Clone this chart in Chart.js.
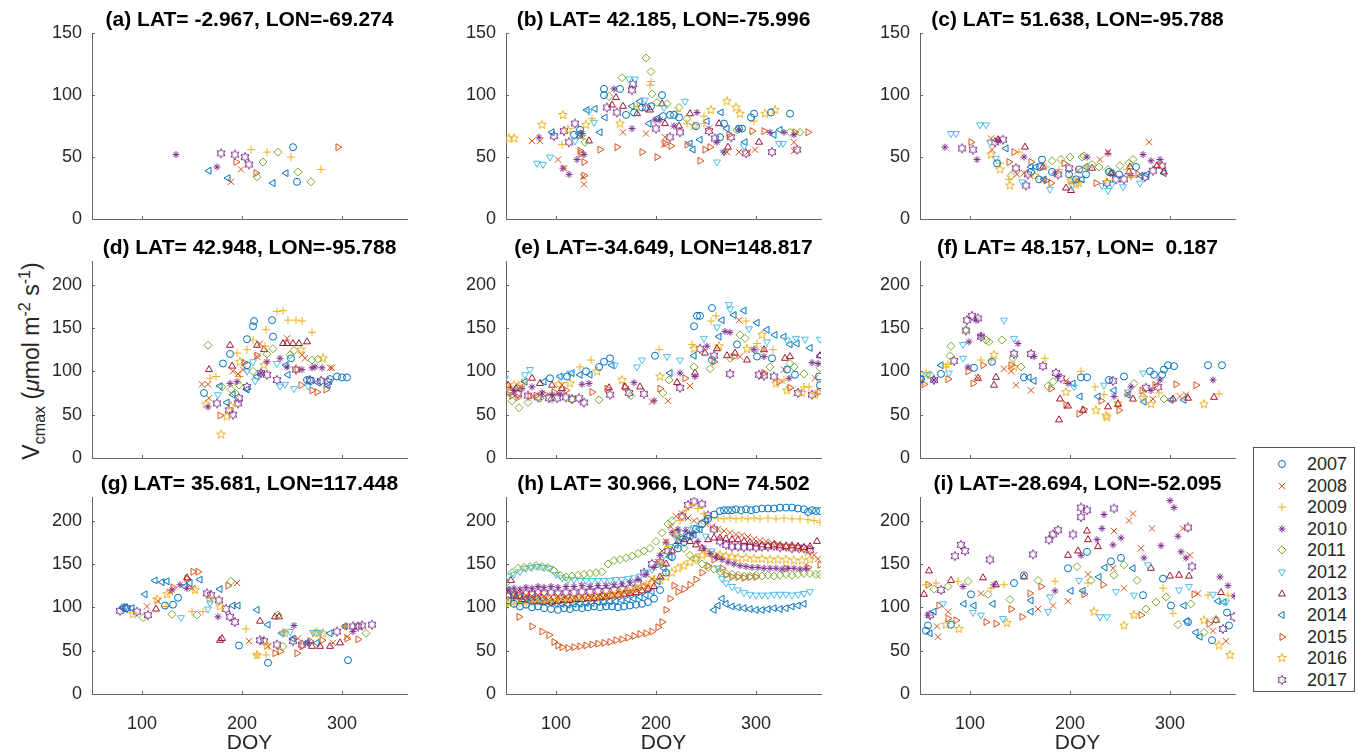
<!DOCTYPE html>
<html>
<head>
<meta charset="utf-8">
<script src="https://cdn.jsdelivr.net/npm/chart.js@4/dist/chart.umd.min.js"></script>
<style>
  body { margin: 0; background: #fff; width: 1358px; height: 756px; overflow: hidden; position: relative;
         font-family: "Liberation Sans", Arial, Helvetica, sans-serif; }
  canvas.panel { position: absolute; }
  #ylab { position: absolute; left: 32px; top: 361px; transform: translate(-50%, -50%) rotate(-90deg);
          font-size: 23px; white-space: nowrap; color: #262626; }
  #ylab sub, #ylab sup { font-size: 70%; }
  #legend { position: absolute; left: 1253px; top: 447px; width: 102px; height: 245px;
            border: 1px solid #555; background: #fff; box-sizing: border-box; }
  .lg-item { position: absolute; font-size: 18px; color: #262626; line-height: 22px; }
</style>
</head>
<body>
<div id="ylab">V<sub>cmax</sub> (<i>μ</i>mol m<sup>-2</sup> s<sup>-1</sup>)</div>
<div id="legend"></div>
<script>
const years = ["2007", "2008", "2009", "2010", "2011", "2012", "2013", "2014", "2015", "2016", "2017"];
const colors = ["#0072BD", "#D95319", "#EDB120", "#7E2F8E", "#77AC30", "#4DBEEE", "#A2142F", "#0072BD", "#D95319", "#EDB120", "#7E2F8E"];
const xTicks = [100, 200, 300];
const yTicksTop = [0, 50, 100, 150];
const yTicksLow = [0, 50, 100, 150, 200];

const titles = [
  "(a) LAT= -2.967, LON=-69.274", "(b) LAT= 42.185, LON=-75.996", "(c) LAT= 51.638, LON=-95.788",
  "(d) LAT= 42.948, LON=-95.788", "(e) LAT=-34.649, LON=148.817", "(f) LAT= 48.157, LON=  0.187",
  "(g) LAT= 35.681, LON=117.448", "(h) LAT= 30.966, LON= 74.502", "(i) LAT=-28.694, LON=-52.095"
];

// each panel: one list of [DOY, Vcmax] per year, 2007..2017
const dataA = [
  [[251,58],[255,30]],
  [[189,30],[199,40]],
  [[209,56],[225,54],[249,50],[279,40]],
  [[134,52],[175,42]],
  [[215,34],[221,46],[236,54],[256,38],[269,30]],
  [],
  [],
  [[167,39],[186,33],[231,29],[244,37]],
  [[194,46],[214,37],[296,58]],
  [],
  [[179,53],[193,52],[203,50],[207,44]]
];
const dataB = [
  [[118,68],[124,72],[148,105],[148,100],[164,105],[170,84],[178,86],[186,90],[195,91],[206,100],[207,83],[214,84],[218,84],[223,82],[240,75],[264,66],[268,77],[283,73],[286,73],[295,82],[298,85],[315,86],[334,85]],
  [[76,63],[84,63],[102,48],[108,41],[127,34],[128,28],[167,70],[190,69],[208,60],[209,66],[253,73],[271,54],[283,54],[292,54],[299,56],[338,55],[338,62]],
  [[106,60],[136,81],[181,91],[194,108],[195,111],[221,87],[231,77],[248,77],[248,83],[298,79]],
  [[83,66],[107,41],[113,36],[121,48],[126,69],[128,52],[158,105],[176,73],[199,80],[204,80],[218,75],[241,86],[261,62],[268,54],[283,72],[314,70],[328,70],[338,68]],
  [[126,68],[129,62],[153,99],[166,114],[190,130],[195,119],[196,101],[201,94],[211,93],[223,90],[231,81],[281,72],[334,70],[344,70]],
  [[81,45],[87,44],[94,50],[119,63],[133,87],[138,78],[173,113],[179,113],[189,96],[208,90],[229,95],[261,46],[268,54],[288,59],[323,61],[327,61]],
  [[124,67],[133,63],[156,92],[160,98],[167,91],[181,85],[194,88],[206,93],[209,77],[223,75],[234,85],[263,77],[272,58],[303,62]],
  [[96,70],[123,69],[131,88],[139,89],[144,70],[149,82],[176,91],[184,95],[193,77],[201,81],[234,61],[237,56],[244,64],[251,79],[265,86],[271,73],[289,62],[318,68],[324,72]],
  [[124,55],[125,53],[128,46],[128,35],[144,56],[161,58],[186,54],[201,50],[209,61],[215,59],[231,60],[244,47],[249,56],[254,58],[273,68],[296,71],[308,71],[339,70],[352,70]],
  [[53,65],[58,65],[86,76],[107,84],[112,72],[130,76],[164,77],[238,75],[255,88],[271,95],[280,90],[284,85],[309,85],[319,88]],
  [[98,67],[108,71],[113,62],[119,77],[151,90],[161,86],[176,104],[177,109],[190,90],[200,73],[214,66],[224,70],[253,71],[259,65],[275,66],[290,53],[316,54],[341,56]]
];
const dataC = [
  [[127,45],[161,38],[169,32],[170,42],[172,48],[182,38],[199,36],[206,32],[209,40],[216,36],[239,38],[249,36],[266,42]],
  [[121,65],[122,56],[147,36],[154,37],[173,32],[207,32],[208,39],[230,48],[238,54],[279,62],[289,43]],
  [[130,45],[139,32],[149,54],[176,42],[189,40],[201,30],[216,42],[236,31],[257,40],[261,34]],
  [[75,58],[107,48],[128,63],[154,50],[185,37],[217,50],[238,53],[261,35],[273,52],[281,47],[290,48]],
  [[141,35],[182,47],[191,48],[200,50],[212,50],[214,51],[222,44],[229,42],[238,40],[250,43],[259,45],[263,48]],
  [[81,69],[86,69],[110,76],[116,76],[120,62],[126,49],[152,30],[180,24],[202,27],[232,27],[238,23],[242,28],[253,26],[270,29]],
  [[128,64],[155,58],[173,42],[196,25],[201,23],[222,41],[241,37],[259,38],[260,42],[287,43],[294,38]],
  [[136,57],[161,42],[166,42],[174,32],[212,32],[216,42],[242,37],[271,35],[277,36],[294,37]],
  [[101,62],[139,46],[144,54],[161,46],[176,31],[181,29],[194,45],[226,29],[242,37],[268,36]],
  [[121,52],[130,40],[140,27],[165,35],[201,31],[206,28],[209,29]],
  [[92,57],[103,56],[125,62],[133,64],[146,41],[156,27],[158,36],[188,36],[199,41],[237,29],[246,32],[254,32],[275,34],[283,39],[292,43]]
];
const dataD = [
  [[162,75],[181,109],[188,120],[205,107],[205,137],[211,152],[212,158],[230,159],[231,140],[249,115],[265,90],[269,89],[288,91],[295,94],[300,93],[305,93]],
  [[160,85],[166,85],[167,69],[191,100],[196,97],[201,102],[215,117],[218,132],[245,138],[260,119],[263,115],[288,104],[290,104]],
  [[168,92],[174,94],[195,121],[198,94],[205,125],[211,136],[223,129],[224,148],[235,169],[241,170],[246,159],[254,159],[260,158],[270,145]],
  [[166,59],[188,86],[195,88],[219,98],[225,111],[238,115],[245,105],[260,102],[270,104],[273,105],[280,104]],
  [[166,130],[180,82],[189,79],[193,75],[197,84],[211,100],[225,120],[231,126],[248,119],[252,124],[270,113],[276,114]],
  [[176,73],[205,100],[211,111],[213,89],[235,109],[238,83],[243,85],[252,80],[266,83]],
  [[167,102],[188,130],[190,106],[215,130],[222,125],[241,132],[245,132],[251,132],[257,132],[265,134]],
  [[178,83],[185,64],[191,73],[205,79],[215,94],[244,107],[246,96],[276,87],[286,84]],
  [[178,49],[202,110],[215,118],[255,102],[259,84],[270,78],[275,76],[284,79]],
  [[164,62],[179,27],[185,48],[189,60],[198,111],[222,107],[259,125],[281,115]],
  [[175,63],[187,55],[191,50],[196,63],[197,69],[205,82],[219,98],[225,96],[235,90],[254,102],[268,90],[279,89],[286,88]]
];
const dataE = [
  [[94,92],[111,94],[130,100],[143,105],[148,111],[154,115],[199,118],[238,152],[241,164],[244,164],[256,173],[256,113],[281,131],[301,117],[316,115],[331,102],[339,96],[363,94],[364,84]],
  [[64,82],[106,84],[196,65],[212,66],[234,83],[283,159],[284,117],[308,125],[328,102],[359,92]],
  [[124,105],[135,113],[203,125],[236,131],[255,158],[260,164],[290,158],[301,132],[317,125],[328,90],[348,82],[353,82]],
  [[58,78],[66,80],[76,82],[86,75],[96,73],[104,74],[126,85],[133,86],[178,87],[198,66],[224,98],[239,94],[251,129],[269,146],[274,145],[298,125],[308,117],[333,92],[356,110],[362,109]],
  [[50,74],[56,66],[63,58],[72,64],[84,69],[96,68],[116,67],[143,67],[175,72],[207,75],[213,90],[238,105],[254,103],[274,115],[284,142],[289,138],[299,125],[314,105],[334,109],[338,105],[348,97],[364,104]],
  [[49,92],[69,96],[74,102],[105,94],[114,98],[159,107],[181,105],[186,113],[211,117],[224,113],[248,138],[261,151],[273,177],[274,172],[293,149],[311,134],[331,136],[340,138],[349,137],[364,137]],
  [[52,84],[60,80],[76,92],[84,86],[96,84],[106,80],[153,81],[169,82],[184,82],[221,87],[239,98],[249,121],[261,126],[271,118],[279,121],[291,113],[308,125],[329,115],[334,117],[364,118]],
  [[69,88],[88,88],[104,94],[116,98],[124,96],[134,96],[156,107],[214,98],[238,118],[263,140],[266,159],[278,165],[288,170],[301,156],[311,148],[319,142],[328,140],[334,131],[341,132],[354,127],[364,118]],
  [[56,72],[62,70],[74,71],[80,72],[88,74],[98,76],[110,78],[136,76],[151,80],[169,82],[204,80],[229,92],[258,111],[278,117],[308,98],[323,88],[334,81],[363,76]],
  [[51,82],[58,84],[66,86],[103,85],[114,86],[141,100],[166,90],[204,94],[238,126],[263,129],[291,126],[306,142],[320,86],[331,78],[346,75],[359,73]],
  [[54,76],[62,74],[72,72],[82,70],[93,69],[101,69],[110,70],[116,68],[123,69],[128,64],[154,73],[173,75],[188,74],[224,81],[244,126],[258,118],[274,97],[303,96],[308,95],[318,94],[342,75],[356,73]]
];
const dataF = [
  [[51,91],[71,97],[104,104],[122,111],[154,93],[211,93],[217,93],[239,90],[254,94],[280,100],[284,96],[292,96],[294,102],[298,107],[304,106],[338,107],[352,107]],
  [[51,88],[108,92],[134,103],[141,100],[146,84],[161,78],[196,89],[258,74],[283,68],[310,71],[316,73]],
  [[76,105],[78,108],[111,113],[121,113],[175,115],[211,100],[225,82],[234,73],[274,71],[289,75],[349,74]],
  [[64,90],[98,105],[99,134],[106,159],[111,141],[148,132],[164,117],[188,94],[198,86],[244,71],[261,82],[281,78],[290,90],[343,90]],
  [[60,96],[80,118],[81,129],[96,148],[116,136],[119,134],[132,136],[143,115],[151,105],[178,83],[183,88],[264,86],[273,70],[294,68]],
  [[58,96],[79,98],[93,115],[93,131],[134,159],[144,138],[204,82],[234,84],[258,76],[273,98]],
  [[108,92],[124,84],[126,93],[189,44],[190,68],[198,60],[213,55],[238,59],[248,62],[263,68],[303,68],[318,69],[344,70]],
  [[51,91],[71,107],[159,93],[164,89],[203,86],[210,71],[228,71],[244,78],[258,73],[274,65],[301,67],[314,67]],
  [[54,85],[78,91],[98,100],[103,86],[113,107],[141,107],[181,80],[196,61],[209,51],[214,56],[231,66],[249,55],[272,78],[285,84],[306,85],[326,84]],
  [[56,97],[124,119],[144,105],[196,76],[226,55],[236,49],[237,47],[248,63],[281,62],[334,62]],
  [[64,90],[84,112],[96,147],[97,159],[102,164],[108,161],[111,140],[144,120],[161,120],[173,106],[186,98],[191,92],[243,89],[276,81],[288,82]]
];
const dataG = [
  [[82,100],[84,99],[123,102],[131,103],[136,111],[197,56],[226,36],[306,39]],
  [[105,101],[116,107],[128,118],[150,122],[195,128],[207,61],[226,55],[256,64],[291,59],[305,66]],
  [[124,101],[150,95],[161,95],[204,75],[215,45],[224,45],[241,72],[303,78]],
  [[130,120],[138,126],[145,122],[176,89],[252,79],[266,59],[303,78],[311,72]],
  [[101,88],[130,92],[155,91],[189,130],[236,91],[241,55],[275,71],[324,70]],
  [[139,88],[166,98],[168,105],[241,70],[248,72],[271,71],[278,71]],
  [[114,98],[145,134],[178,62],[180,64],[218,84],[233,89],[237,89],[270,55],[278,55],[288,55],[298,59]],
  [[81,99],[90,99],[103,115],[113,131],[120,129],[125,130],[143,124],[148,128],[158,132],[178,121],[191,102],[196,102],[215,97],[226,80],[240,70],[251,64],[265,59],[275,59],[288,70],[303,78]],
  [[131,123],[145,133],[151,141],[156,141],[186,125],[233,47],[238,49],[255,47],[260,55],[268,61],[280,62],[305,64],[316,63]],
  [[91,92],[115,109],[125,115],[153,120],[168,109],[178,101],[215,45],[225,56],[243,70],[273,70],[281,70]],
  [[78,96],[85,99],[95,95],[106,91],[165,116],[169,114],[177,108],[184,98],[188,89],[193,83],[218,62],[222,61],[235,57],[251,61],[260,57],[295,72],[311,78],[316,78],[320,79],[330,80]]
];
const dataH = [
  [[52,108],[58,104],[64,101],[70,103],[76,100],[82,101],[88,99],[95,98],[102,97],[108,99],[114,98],[120,100],[126,99],[132,100],[138,101],[144,100],[150,101],[156,101],[162,100],[168,101],[174,102],[180,103],[186,104],[192,106],[198,110],[204,120],[210,140],[216,158],[222,168],[228,175],[234,182],[240,190],[246,196],[252,202],[258,207],[264,211],[268,212],[272,212],[276,212],[280,213],[285,212],[290,213],[295,212],[300,213],[306,214],[312,214],[318,214],[324,215],[330,215],[336,215],[342,214],[348,213],[352,210],[356,212],[360,211],[364,211]],
  [[52,117],[58,116],[64,115],[70,114],[76,113],[82,114],[88,113],[95,112],[102,113],[110,112],[118,111],[126,112],[134,112],[142,113],[150,113],[158,114],[166,115],[174,117],[182,120],[190,124],[196,133],[202,152],[206,165],[210,176],[215,193],[220,205],[226,208],[232,203],[238,200],[244,199],[250,196],[256,193],[262,190],[268,188],[274,186],[280,184],[286,183],[292,181],[298,179],[304,177],[310,176],[316,174],[322,173],[328,171],[334,170],[340,169],[346,166],[352,163],[358,160],[362,156]],
  [[52,103],[58,104],[64,105],[70,104],[76,106],[82,107],[88,106],[95,107],[102,108],[110,108],[118,109],[126,109],[134,110],[142,111],[150,112],[158,114],[166,116],[174,118],[182,122],[190,127],[198,133],[206,150],[212,170],[218,185],[224,200],[230,212],[236,218],[242,214],[248,208],[254,204],[262,203],[268,202],[274,203],[280,202],[286,203],[292,202],[298,203],[304,202],[312,203],[320,202],[328,203],[336,202],[344,202],[352,201],[358,200],[364,198]],
  [[52,120],[58,122],[64,121],[70,123],[76,122],[82,124],[88,123],[95,124],[102,123],[110,124],[118,124],[126,125],[134,124],[142,125],[150,125],[158,126],[166,127],[174,129],[182,132],[190,138],[198,146],[204,160],[210,175],[216,186],[222,190],[230,188],[236,185],[242,176],[248,168],[254,162],[260,158],[266,155],[272,152],[278,150],[284,148],[290,147],[296,146],[302,146],[308,145],[314,145],[320,145],[326,144],[332,145],[338,145],[344,144],[350,145]],
  [[50,128],[56,140],[62,145],[68,146],[74,147],[80,148],[86,147],[92,146],[98,142],[104,137],[110,135],[116,136],[122,137],[128,138],[134,139],[140,140],[146,141],[152,150],[158,154],[164,155],[170,157],[176,159],[182,162],[188,165],[194,168],[200,176],[206,186],[212,196],[216,200],[222,182],[228,168],[234,160],[240,155],[246,150],[252,146],[258,144],[264,141],[270,139],[276,138],[282,137],[288,136],[294,136],[300,137],[306,136],[312,137],[318,136],[324,137],[330,138],[336,137],[342,138],[348,139],[354,139],[360,138],[364,138]],
  [[52,136],[58,138],[64,141],[70,145],[76,146],[82,147],[88,146],[94,145],[100,138],[106,134],[112,132],[118,132],[124,131],[130,131],[136,131],[142,131],[148,131],[154,131],[160,132],[166,132],[172,133],[178,134],[184,136],[190,140],[196,144],[202,150],[208,160],[214,170],[220,180],[226,186],[232,190],[238,192],[244,190],[250,182],[256,165],[262,145],[266,133],[270,128],[276,124],[282,120],[288,117],[294,115],[300,114],[306,114],[312,114],[318,115],[324,115],[330,115],[336,114],[342,115],[348,116],[354,118]],
  [[55,131],[60,112],[66,109],[72,108],[78,107],[84,106],[90,107],[96,106],[102,107],[108,108],[114,108],[120,109],[126,109],[132,110],[138,110],[144,111],[150,112],[156,113],[162,114],[168,115],[174,116],[180,117],[186,119],[192,121],[198,124],[204,135],[210,150],[216,165],[222,176],[228,178],[234,176],[240,172],[246,168],[252,178],[258,180],[264,180],[270,179],[276,178],[282,178],[288,176],[294,175],[300,173],[306,172],[312,171],[318,172],[324,171],[330,170],[336,171],[342,170],[348,169],[354,170],[361,176]],
  [[52,120],[58,115],[64,112],[70,110],[76,109],[82,108],[88,106],[94,105],[100,104],[106,104],[112,103],[118,104],[124,104],[130,105],[136,105],[142,106],[148,106],[154,107],[160,107],[166,108],[172,109],[178,110],[184,112],[190,114],[196,118],[202,130],[208,145],[214,158],[220,172],[226,180],[232,183],[238,184],[244,190],[250,200],[258,97],[262,102],[266,110],[270,104],[276,101],[282,100],[288,99],[294,98],[300,97],[306,97],[312,98],[318,99],[324,98],[330,99],[336,101],[342,102],[348,104]],
  [[63,89],[76,78],[86,72],[93,68],[98,60],[102,56],[106,54],[112,53],[118,54],[124,55],[130,56],[136,57],[142,58],[148,59],[154,60],[160,62],[166,63],[172,65],[178,67],[184,69],[190,70],[196,72],[202,77],[206,83],[210,97],[214,110],[218,125],[222,118],[228,121],[234,126],[240,132],[246,140],[252,148],[258,155],[262,158],[266,145],[270,137],[276,135],[282,135],[288,134],[294,135],[300,135],[330,145],[352,146],[364,149]],
  [[52,106],[60,107],[68,108],[76,107],[84,108],[92,109],[100,108],[108,109],[116,110],[124,110],[132,111],[140,112],[148,113],[156,115],[164,117],[172,119],[180,121],[188,124],[196,128],[204,131],[210,135],[216,140],[222,145],[228,148],[234,152],[240,157],[246,160],[252,162],[258,161],[264,160],[270,159],[276,158],[282,157],[290,157],[298,156],[306,156],[314,155],[322,155],[330,155],[338,154],[346,154],[354,155]],
  [[52,113],[58,115],[64,114],[70,116],[76,115],[82,117],[88,116],[95,117],[102,116],[110,117],[118,117],[126,118],[134,118],[142,119],[150,119],[158,120],[166,121],[174,122],[182,128],[188,140],[196,150],[204,152],[212,165],[220,185],[226,205],[232,218],[238,222],[246,219],[252,206],[258,190],[264,176],[270,172],[276,170],[282,170],[288,169],[294,170],[300,169],[306,170],[312,170],[318,171],[324,169],[330,170],[336,168],[342,169],[348,168],[354,166]]
];
const dataI = [
  [[56,73],[58,79],[81,80],[101,115],[144,128],[154,137],[198,145],[217,164],[241,153],[251,157],[273,114],[293,133],[301,102],[318,83],[342,62],[357,94],[359,79]],
  [[67,78],[68,66],[78,95],[111,116],[168,98],[183,102],[198,107],[218,138],[243,145],[244,188],[254,122],[259,200],[263,208],[271,168],[282,191],[313,191],[320,160],[328,116],[343,73],[356,61]],
  [[56,126],[66,128],[88,130],[121,122],[134,126],[185,130],[218,128],[293,122],[303,93],[338,114],[358,114]],
  [[58,91],[93,124],[124,126],[185,119],[211,160],[227,178],[232,191],[234,207],[243,172],[251,180],[274,157],[291,171],[300,223],[304,215],[308,182],[311,164],[316,157],[350,135],[358,125],[364,113]],
  [[64,121],[78,124],[98,130],[118,115],[140,109],[168,131],[207,147],[221,131],[244,137],[254,149],[267,131],[276,98],[286,106],[296,112],[308,80],[321,104],[334,71],[346,86]],
  [[73,104],[103,94],[111,91],[133,87],[178,95],[180,112],[209,131],[230,89],[237,89],[246,118],[264,114],[278,149],[309,120],[319,124],[343,115],[356,106]],
  [[54,115],[59,142],[81,131],[113,134],[126,126],[154,135],[198,160],[208,165],[217,188],[218,178],[228,170],[281,145],[300,136],[309,137],[319,136],[346,85],[351,117]],
  [[60,70],[64,95],[94,104],[104,102],[123,104],[161,108],[161,95],[201,119],[213,119],[229,135],[235,146],[263,145],[314,102],[317,84],[326,71],[330,66],[348,107],[354,106]],
  [[58,126],[69,102],[78,87],[86,85],[116,83],[126,81],[141,98],[152,89],[160,116],[171,124],[214,115],[233,126],[271,91],[324,115],[339,81]],
  [[76,80],[89,75],[137,82],[224,95],[254,79],[264,91],[334,85],[349,56],[360,45]],
  [[60,91],[71,120],[85,159],[91,172],[95,165],[120,155],[163,161],[179,178],[183,184],[188,189],[203,184],[211,204],[211,215],[217,212],[244,214],[318,192],[322,147],[353,75],[364,89]]
];
const panelData = [dataA, dataB, dataC, dataD, dataE, dataF, dataG, dataH, dataI];

// layout of the 3x3 grid (pixels)
const colLeft = [92, 506, 920];
const rowTop = [33, 261, 497];
const rowH = [186, 197, 197];
const yMax = [150, 227, 227];
const plotW = 315;
const titleH = 25;

// MATLAB-like marker glyphs
function starGlyph(n, outer, inner, color) {
  const c = document.createElement("canvas");
  c.width = 12; c.height = 12;
  const g = c.getContext("2d");
  g.strokeStyle = color; g.lineWidth = 1;
  g.beginPath();
  for (let i = 0; i < 2 * n; i++) {
    const a = -Math.PI / 2 + i * Math.PI / n;
    const r = i % 2 ? inner : outer;
    const px = 6 + r * Math.cos(a), py = 6 + r * Math.sin(a);
    if (i === 0) g.moveTo(px, py); else g.lineTo(px, py);
  }
  g.closePath(); g.stroke();
  return c;
}
const pentagram = starGlyph(5, 4.6, 1.9, colors[9]);
const hexagram = starGlyph(6, 4.6, 2.6, colors[10]);

const markerStyle = ["circle", "crossRot", "cross", "star", "rectRot", "triangle", "triangle", "triangle", "triangle", pentagram, hexagram];
const markerRot = [0, 0, 0, 0, 0, 180, 0, 270, 90, 0, 0];
const markerSize = [3.5, 4.5, 4, 3.5, 4, 4, 4, 4, 4, 4, 4];

Chart.defaults.font.family = "'Liberation Sans', Arial, Helvetica, sans-serif";

// MATLAB draws ticks pointing into the axes
const inwardTicks = {
  id: "inwardTicks",
  afterDraw(chart) {
    const { ctx, chartArea, scales } = chart;
    ctx.save();
    ctx.strokeStyle = "#666";
    ctx.lineWidth = 1;
    ctx.beginPath();
    scales.x.ticks.forEach((t) => {
      const px = Math.round(scales.x.getPixelForValue(t.value)) + 0.5;
      ctx.moveTo(px, chartArea.bottom);
      ctx.lineTo(px, chartArea.bottom - 3);
    });
    scales.y.ticks.forEach((t) => {
      const py = Math.round(scales.y.getPixelForValue(t.value)) + 0.5;
      ctx.moveTo(chartArea.left, py);
      ctx.lineTo(chartArea.left + 3, py);
    });
    ctx.stroke();
    ctx.restore();
  },
};

panelData.forEach((pdata, idx) => {
  const row = Math.floor(idx / 3), col = idx % 3;
  const xH = row === 2 ? 62 : 24;
  const cv = document.createElement("canvas");
  cv.className = "panel";
  cv.width = plotW + 120;
  cv.height = titleH + rowH[row] + xH;
  cv.style.left = (colLeft[col] - 60) + "px";
  cv.style.top = (rowTop[row] - titleH) + "px";
  document.body.appendChild(cv);

  const datasets = years.map((yr, k) => ({
    label: yr,
    data: pdata[k].map(([x, y]) => ({ x, y })),
    pointStyle: markerStyle[k],
    pointRotation: markerRot[k],
    pointRadius: markerSize[k],
    pointBorderWidth: 1,
    borderColor: colors[k],
    backgroundColor: "rgba(0,0,0,0)",
    showLine: false,
  }));

  new Chart(cv, {
    type: "scatter",
    data: { datasets },
    options: {
      responsive: false,
      animation: false,
      events: [],
      layout: { padding: { left: 0, right: 60, top: 0, bottom: 0 } },
      plugins: {
        legend: { display: false },
        tooltip: { enabled: false },
        title: {
          display: true,
          fullSize: false,
          text: titles[idx],
          color: "#000",
          font: { size: 21, weight: "bold", lineHeight: 1.2 },
          padding: { top: 0, bottom: 0 },
        },
      },
      scales: {
        x: {
          type: "linear",
          min: 50,
          max: 365,
          afterBuildTicks: (axis) => { axis.ticks = xTicks.map((v) => ({ value: v })); },
          afterFit: (s) => { s.height = xH; },
          grid: { display: false, drawTicks: false },
          border: { display: true, color: "#666", width: 1 },
          ticks: { display: row === 2, color: "#262626", font: { size: 18 }, padding: 19, maxRotation: 0 },
          title: { display: row === 2, text: "DOY", color: "#262626", font: { size: 21 }, padding: 0 },
        },
        y: {
          type: "linear",
          min: 0,
          max: yMax[row],
          afterBuildTicks: (axis) => { axis.ticks = (row === 0 ? yTicksTop : yTicksLow).map((v) => ({ value: v })); },
          afterFit: (s) => { s.width = 60; },
          grid: { display: false, drawTicks: false },
          border: { display: true, color: "#666", width: 1 },
          ticks: { color: "#262626", font: { size: 18 }, padding: 10 },
        },
      },
    },
    plugins: [inwardTicks],
  });
});

// legend
const legend = document.getElementById("legend");
years.forEach((yr, k) => {
  const cy = 16 + k * 21.6;
  const c = document.createElement("canvas");
  c.width = 20; c.height = 20;
  c.className = "lg-item";
  c.style.left = "18px";
  c.style.top = (cy - 10) + "px";
  const g = c.getContext("2d");
  g.strokeStyle = colors[k];
  g.fillStyle = "rgba(0,0,0,0)";
  g.lineWidth = 1;
  if (Chart.helpers && Chart.helpers.drawPoint) {
    Chart.helpers.drawPoint(g, { pointStyle: markerStyle[k], rotation: markerRot[k], radius: markerSize[k], borderWidth: 1 }, 10, 10);
  } else {
    g.beginPath(); g.arc(10, 10, 3.5, 0, Math.PI * 2); g.stroke();
  }
  legend.appendChild(c);
  const t = document.createElement("div");
  t.className = "lg-item";
  t.style.left = "53px";
  t.style.top = (cy - 11) + "px";
  t.textContent = yr;
  legend.appendChild(t);
});
</script>
</body>
</html>
